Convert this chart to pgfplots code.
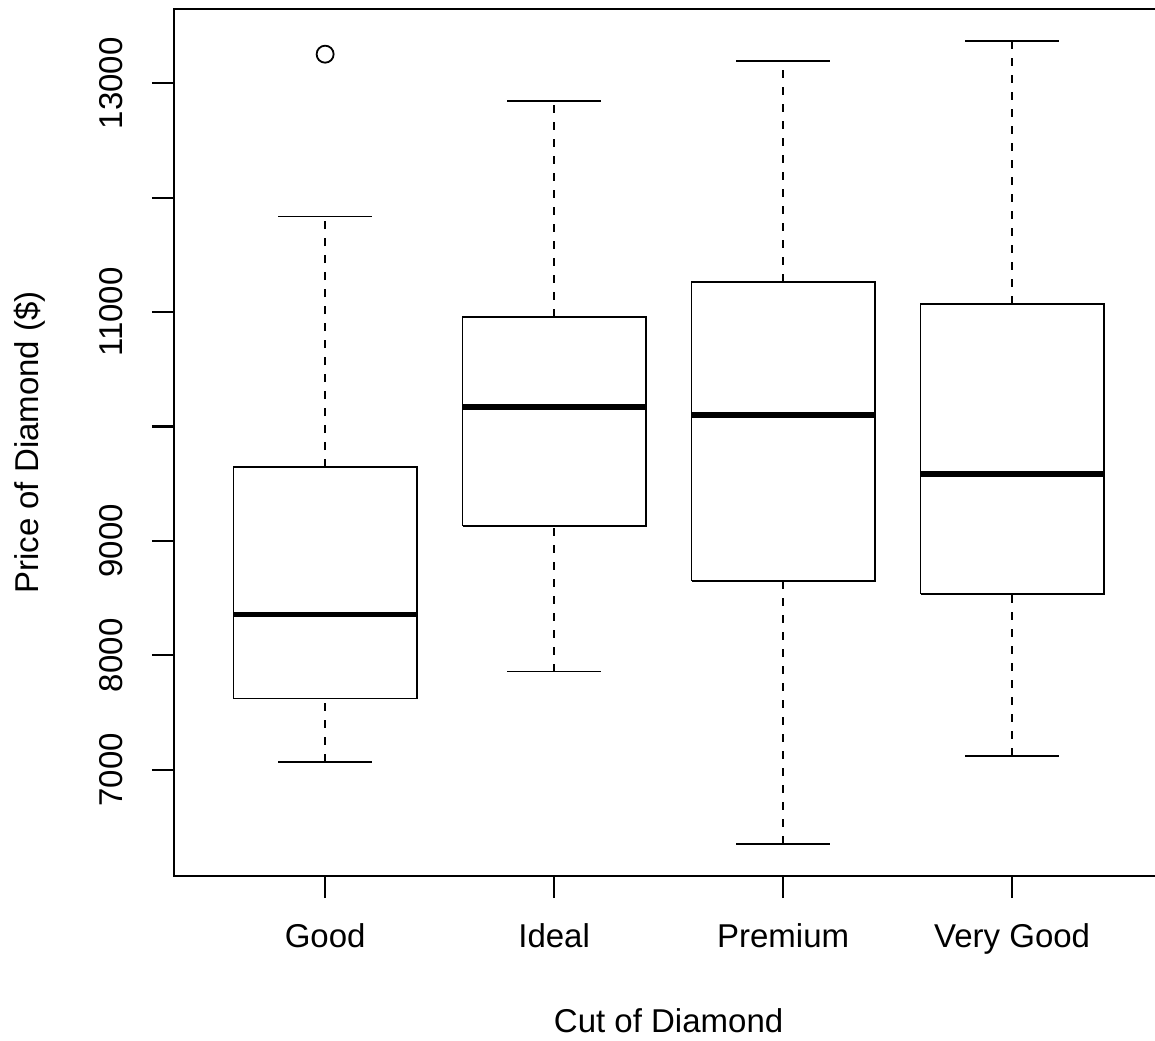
\documentclass[border=0pt]{standalone}
\usepackage{fontspec}
\setmainfont{Liberation Sans}
\usepackage{pgfplots}
\pgfplotsset{compat=1.18}
\newcommand{\lblfont}{\fontsize{16.5}{20}\selectfont}
\begin{document}
\begin{tikzpicture}
\useasboundingbox (-87pt,-82pt) rectangle (490.5pt,438pt);
\begin{axis}[
  at={(0pt,0pt)}, anchor=south west,
  width=490.5pt, height=433.5pt, scale only axis,
  xmin=0.34, xmax=4.624, ymin=6071, ymax=13649,
  axis line style={draw=none},
  xtick={1,2,3,4}, xticklabels={Good,Ideal,Premium,Very Good},
  ytick={7000,8000,9000,10000,11000,12000,13000},
  yticklabels={7000,8000,9000,,11000,,13000},
  scaled y ticks=false,
  xtick pos=left, ytick pos=left,
  tick align=outside, major tick length=11pt,
  tick style={black, line width=1.1pt},
  minor tick num=0,
  /pgf/number format/assume math mode=true,
  tick label style={font=\lblfont},
  xticklabel style={anchor=north, inner sep=0pt},
  yticklabel style={rotate=90, anchor=south, inner sep=0pt},
  xticklabel shift=12.5pt,
  yticklabel shift=14.5pt,
  label style={font=\lblfont},
  xlabel={Cut of Diamond},
  ylabel={Price of Diamond (\$)},
  xlabel style={at={(axis description cs:0.5042,-0.1522)}, anchor=north, inner sep=0pt},
  ylabel style={at={(axis description cs:-0.1631,0.5)}, anchor=north, inner sep=0pt},
  clip=false,
  box/.style={black, line width=0.9pt, mark=none},
  whisk/.style={black, line width=0.9pt, mark=none, dash pattern=on 4pt off 4.5pt},
  cap/.style={black, line width=0.9pt, mark=none},
  med/.style={black, line width=2.8pt, mark=none},
]
% Good
\addplot[whisk] coordinates {(1,7070) (1,7622)};
\addplot[whisk] coordinates {(1,9645) (1,11835)};
\addplot[cap] coordinates {(0.795,7070) (1.205,7070)};
\addplot[cap] coordinates {(0.795,11835) (1.205,11835)};
\addplot[box] coordinates {(0.6,7622) (1.4,7622) (1.4,9645) (0.6,9645) (0.6,7622)};
\addplot[med] coordinates {(0.6,8358) (1.4,8358)};
\addplot[black, only marks, mark=o, mark size=4.25pt, mark options={line width=0.9pt}] coordinates {(1,13254)};
% Ideal
\addplot[whisk] coordinates {(2,7858) (2,9128)};
\addplot[whisk] coordinates {(2,10959) (2,12842)};
\addplot[cap] coordinates {(1.795,7858) (2.205,7858)};
\addplot[cap] coordinates {(1.795,12842) (2.205,12842)};
\addplot[box] coordinates {(1.6,9128) (2.4,9128) (2.4,10959) (1.6,10959) (1.6,9128)};
\addplot[med] coordinates {(1.6,10171) (2.4,10171)};
% Premium
\addplot[whisk] coordinates {(3,6352) (3,8647)};
\addplot[whisk] coordinates {(3,11266) (3,13193)};
\addplot[cap] coordinates {(2.795,6352) (3.205,6352)};
\addplot[cap] coordinates {(2.795,13193) (3.205,13193)};
\addplot[box] coordinates {(2.6,8647) (3.4,8647) (3.4,11266) (2.6,11266) (2.6,8647)};
\addplot[med] coordinates {(2.6,10101) (3.4,10101)};
% Very Good
\addplot[whisk] coordinates {(4,7123) (4,8533)};
\addplot[whisk] coordinates {(4,11073) (4,13368)};
\addplot[cap] coordinates {(3.795,7123) (4.205,7123)};
\addplot[cap] coordinates {(3.795,13368) (4.205,13368)};
\addplot[box] coordinates {(3.6,8533) (4.4,8533) (4.4,11073) (3.6,11073) (3.6,8533)};
\addplot[med] coordinates {(3.6,9584) (4.4,9584)};
\end{axis}
\draw[black, line width=1.15pt] (490.5pt,433.5pt) -- (0pt,433.5pt) -- (0pt,0pt) -- (490.5pt,0pt);
\end{tikzpicture}
\end{document}
